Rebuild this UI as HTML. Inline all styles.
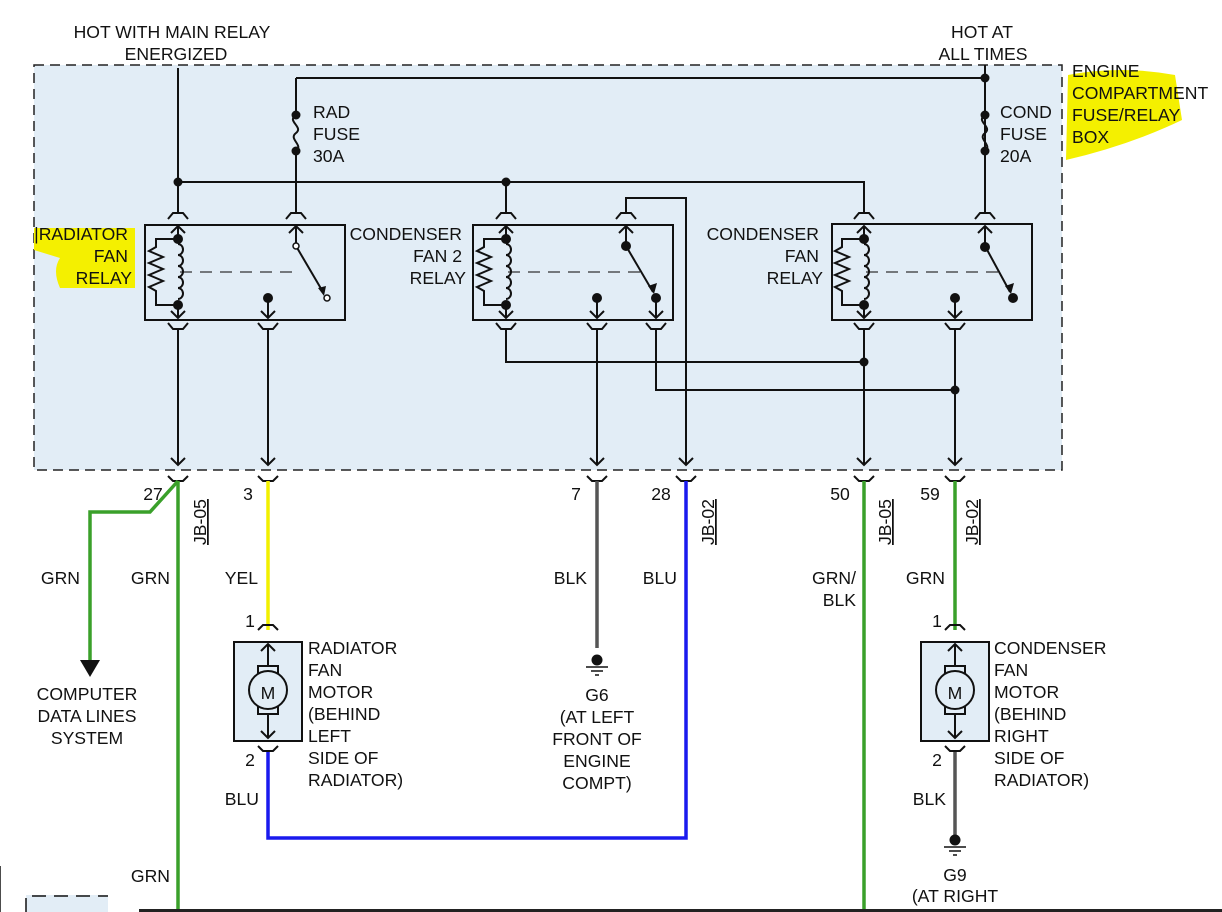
<!DOCTYPE html>
<html><head><meta charset="utf-8"><style>
html,body{margin:0;padding:0;background:#fff;}
svg{display:block;}
text{font-family:"Liberation Sans",sans-serif;font-size:17.6px;fill:#111;}
</style></head><body>
<svg width="1222" height="912" viewBox="0 0 1222 912" xmlns="http://www.w3.org/2000/svg">
<defs>
<g id="coil">
  <circle cx="0" cy="239" r="5" fill="#111"/>
  <circle cx="0" cy="305" r="5" fill="#111"/>
  <path d="M0 239 H-22 V247 l-7 4 l14 6 l-14 6 l14 6 l-14 6 l14 6 l-14 6 l7 4 V305 H0" fill="none" stroke="#111" stroke-width="2"/>
  <path d="M0 244 a5 5.5 0 0 1 0 11 a5 5.5 0 0 1 0 11 a5 5.5 0 0 1 0 11 a5 5.5 0 0 1 0 11 a5 5.5 0 0 1 0 11" fill="none" stroke="#111" stroke-width="2"/>
  <path d="M0 226 V239 M0 305 V318 M-7 233 L0 226 L7 233 M-7 311 L0 318 L7 311" fill="none" stroke="#111" stroke-width="2"/>
</g>
<g id="cupT"><path d="M-10 219 L-5 213 H5 L10 219" fill="none" stroke="#111" stroke-width="2"/></g>
<g id="cupB"><path d="M-10 323 L-5 329 H5 L10 323" fill="none" stroke="#111" stroke-width="2"/></g>
<g id="fixed"><circle cx="0" cy="298" r="5" fill="#111"/><path d="M0 298 V318 M-7 311 L0 318 L7 311" fill="none" stroke="#111" stroke-width="2"/></g>
<g id="pinB"><path d="M-10 476 L-5 481 H5 L10 476" fill="none" stroke="#111" stroke-width="2"/><path d="M0 328 V465 M-7 458 L0 465 L7 458" fill="none" stroke="#111" stroke-width="2"/></g>
<g id="gnd"><circle cx="0" cy="660" r="5.5" fill="#111"/><path d="M-11 667 H11 M-6 671 H6 M-2 675 H2" stroke="#111" stroke-width="1.5"/></g>
</defs>

<rect x="34" y="65" width="1028" height="405" fill="#e2edf6" stroke="#222" stroke-width="1.5" stroke-dasharray="10,6"/>

<path d="M1068 75 Q1120 65 1175 75 L1182 120 Q1130 145 1066 160 Z" fill="#f4f000"/>
<path d="M34 228 L135 228 L135 288 L60 288 Q52 270 60 258 L34 250 Z" fill="#f4f000"/>

<g stroke="#111" stroke-width="2" fill="none">
  <path d="M178 68 V213"/>
  <path d="M296 78 H985 M985 65 V213"/>
  <path d="M296 78 V115 M296 151 V213"/>
  <path d="M296 115 c-10 6 8 12 0 18 c-8 6 8 12 0 18"/>
  <path d="M985 115 c-10 6 8 12 0 18 c-8 6 8 12 0 18"/>
  <path d="M985 78 V115 M985 151 V213"/>
  <path d="M178 182 H864 V213"/>
  <path d="M506 182 V213"/>
  <path d="M626 213 V198 H686 V465"/>
  <path d="M679 458 L686 465 L693 458"/>
  <path d="M506 328 V362 H864"/>
  <path d="M656 328 V390 H955"/>
  <rect x="145" y="225" width="200" height="95"/>
  <rect x="473" y="225" width="200" height="95"/>
  <rect x="832" y="224" width="200" height="96"/>
  <path d="M180 272 H300 M508 272 H640 M866 272 H998" stroke-width="1.2" stroke-dasharray="12,8" stroke="#333"/>
  <path d="M296 226 V246 M289 233 L296 226 L303 233"/>
  <path d="M296 246 L323 292"/>
  <path d="M626 226 V246 M619 233 L626 226 L633 233 M626 246 L653 292"/>
  <path d="M985 226 V246 M978 233 L985 226 L992 233 M985 246 L1010 292"/>
  <path d="M656 298 V318 M649 311 L656 318 L663 311"/>
</g>
<circle cx="296" cy="246" r="3" fill="#fff" stroke="#111" stroke-width="1.5"/>
<circle cx="327" cy="298" r="3" fill="#fff" stroke="#111" stroke-width="1.5"/>
<path d="M318 288 L324 296 L326 286 Z" fill="#111"/>
<circle cx="626" cy="246" r="5" fill="#111"/><circle cx="656" cy="298" r="5" fill="#111"/>
<path d="M648 286 L654 294 L657 283 Z" fill="#111"/>
<circle cx="985" cy="247" r="5" fill="#111"/><circle cx="1013" cy="298" r="5" fill="#111"/>
<path d="M1005 286 L1011 294 L1014 283 Z" fill="#111"/>
<g fill="#111"><circle cx="296" cy="115" r="4.5"/><circle cx="296" cy="151" r="4.5"/><circle cx="985" cy="115" r="4.5"/><circle cx="985" cy="151" r="4.5"/>
<circle cx="985" cy="78" r="4.5"/><circle cx="178" cy="182" r="4.5"/><circle cx="506" cy="182" r="4.5"/><circle cx="864" cy="362" r="4.5"/><circle cx="955" cy="390" r="4.5"/></g>

<use href="#coil" x="178"/><use href="#coil" x="506"/><use href="#coil" x="864"/>
<use href="#fixed" x="268"/><use href="#fixed" x="597"/><use href="#fixed" x="955"/>
<use href="#cupT" x="178"/><use href="#cupT" x="296"/><use href="#cupT" x="506"/><use href="#cupT" x="626"/><use href="#cupT" x="864"/><use href="#cupT" x="985"/>
<use href="#cupB" x="178"/><use href="#cupB" x="268"/><use href="#cupB" x="506"/><use href="#cupB" x="597"/><use href="#cupB" x="656"/><use href="#cupB" x="864"/><use href="#cupB" x="955"/>
<use href="#pinB" x="178"/><use href="#pinB" x="268"/><use href="#pinB" x="597"/><use href="#pinB" x="864"/><use href="#pinB" x="955"/>
<path d="M676 476 L681 481 H691 L696 476" fill="none" stroke="#111" stroke-width="2"/>

<g fill="none" stroke-width="3.5">
  <path d="M178 481 V912" stroke="#3aa02a"/>
  <path d="M178 481 L150 512 H90 V660" stroke="#3aa02a"/>
  <path d="M864 481 V912" stroke="#3aa02a"/>
  <path d="M955 481 V630" stroke="#3aa02a"/>
  <path d="M268 481 V630" stroke="#f2f000"/>
  <path d="M268 750 V838 H686 V481" stroke="#1a1aee"/>
  <path d="M597 481 V648" stroke="#555"/>
  <path d="M955 750 V835" stroke="#555"/>
</g>
<path d="M80 660 H100 L90 677 Z" fill="#111"/>
<use href="#gnd" x="597"/><use href="#gnd" x="955" y="180"/>

<g fill="none" stroke="#111" stroke-width="2">
  <rect x="234" y="642" width="68" height="99" fill="#e2edf6"/>
  <rect x="921" y="642" width="68" height="99" fill="#e2edf6"/>
  <path d="M258 630 L263 625 H273 L278 630 M258 746 L263 751 H273 L278 746"/>
  <path d="M945 630 L950 625 H960 L965 630 M945 746 L950 751 H960 L965 746"/>
  <path d="M268 644 V666 M261 651 L268 644 L275 651 M258 666 H278 V714 H258 Z M268 714 V738 M261 731 L268 738 L275 731"/>
  <path d="M955 644 V666 M948 651 L955 644 L962 651 M945 666 H965 V714 H945 Z M955 714 V738 M948 731 L955 738 L962 731"/>
  <circle cx="268" cy="690" r="19" fill="#e2edf6"/>
  <circle cx="955" cy="690" r="19" fill="#e2edf6"/>
</g>
<text x="268" y="699" text-anchor="middle" font-size="25">M</text>
<text x="955" y="699" text-anchor="middle" font-size="25">M</text>

<text x="172" y="38" text-anchor="middle">HOT WITH MAIN RELAY</text>
<text x="176" y="60" text-anchor="middle">ENERGIZED</text>
<text x="982" y="38" text-anchor="middle">HOT AT</text>
<text x="983" y="60" text-anchor="middle">ALL TIMES</text>
<text x="1072" y="77">ENGINE</text><text x="1072" y="99">COMPARTMENT</text><text x="1072" y="121">FUSE/RELAY</text><text x="1072" y="143">BOX</text>
<text x="313" y="118">RAD</text><text x="313" y="140">FUSE</text><text x="313" y="162">30A</text>
<text x="1000" y="118">COND</text><text x="1000" y="140">FUSE</text><text x="1000" y="162">20A</text>
<text x="128" y="240" text-anchor="end">|RADIATOR</text><text x="128" y="262" text-anchor="end">FAN</text><text x="132" y="284" text-anchor="end">RELAY</text>
<text x="462" y="240" text-anchor="end">CONDENSER</text><text x="462" y="262" text-anchor="end">FAN 2</text><text x="466" y="284" text-anchor="end">RELAY</text>
<text x="819" y="240" text-anchor="end">CONDENSER</text><text x="819" y="262" text-anchor="end">FAN</text><text x="823" y="284" text-anchor="end">RELAY</text>
<text x="153" y="500" text-anchor="middle">27</text><text x="248" y="500" text-anchor="middle">3</text>
<text x="576" y="500" text-anchor="middle">7</text><text x="661" y="500" text-anchor="middle">28</text>
<text x="840" y="500" text-anchor="middle">50</text><text x="930" y="500" text-anchor="middle">59</text>
<g font-size="16">
<text transform="translate(206,545) rotate(-90)" text-decoration="underline">JB-05</text>
<text transform="translate(714,545) rotate(-90)" text-decoration="underline">JB-02</text>
<text transform="translate(891,545) rotate(-90)" text-decoration="underline">JB-05</text>
<text transform="translate(978,545) rotate(-90)" text-decoration="underline">JB-02</text>
</g>
<path d="M208 506 V545 M716 506 V545 M893 506 V545 M980 506 V545" stroke="#111" stroke-width="1"/>
<text x="80" y="584" text-anchor="end">GRN</text><text x="170" y="584" text-anchor="end">GRN</text>
<text x="258" y="584" text-anchor="end">YEL</text><text x="587" y="584" text-anchor="end">BLK</text>
<text x="677" y="584" text-anchor="end">BLU</text><text x="856" y="584" text-anchor="end">GRN/</text><text x="856" y="606" text-anchor="end">BLK</text>
<text x="945" y="584" text-anchor="end">GRN</text>
<text x="87" y="700" text-anchor="middle">COMPUTER</text><text x="87" y="722" text-anchor="middle">DATA LINES</text><text x="87" y="744" text-anchor="middle">SYSTEM</text>
<text x="250" y="627" text-anchor="middle">1</text><text x="250" y="766" text-anchor="middle">2</text><text x="259" y="805" text-anchor="end">BLU</text>
<text x="937" y="627" text-anchor="middle">1</text><text x="937" y="766" text-anchor="middle">2</text><text x="946" y="805" text-anchor="end">BLK</text>
<text x="308" y="654">RADIATOR</text><text x="308" y="676">FAN</text><text x="308" y="698">MOTOR</text><text x="308" y="720">(BEHIND</text><text x="308" y="742">LEFT</text><text x="308" y="764">SIDE OF</text><text x="308" y="786">RADIATOR)</text>
<text x="994" y="654">CONDENSER</text><text x="994" y="676">FAN</text><text x="994" y="698">MOTOR</text><text x="994" y="720">(BEHIND</text><text x="994" y="742">RIGHT</text><text x="994" y="764">SIDE OF</text><text x="994" y="786">RADIATOR)</text>
<text x="597" y="701" text-anchor="middle">G6</text><text x="597" y="723" text-anchor="middle">(AT LEFT</text><text x="597" y="745" text-anchor="middle">FRONT OF</text><text x="597" y="767" text-anchor="middle">ENGINE</text><text x="597" y="789" text-anchor="middle">COMPT)</text>
<text x="955" y="881" text-anchor="middle">G9</text><text x="955" y="902" text-anchor="middle">(AT RIGHT</text>
<text x="170" y="882" text-anchor="end">GRN</text>
<path d="M0 866 V912" stroke="#111" stroke-width="1.5"/>
<rect x="26" y="895" width="82" height="17" fill="#e2edf6"/>
<path d="M26 912 V896 H108" fill="none" stroke="#111" stroke-width="1.5" stroke-dasharray="14,8"/>
<rect x="139" y="909" width="1083" height="3" fill="#222"/>
</svg>
</body></html>
